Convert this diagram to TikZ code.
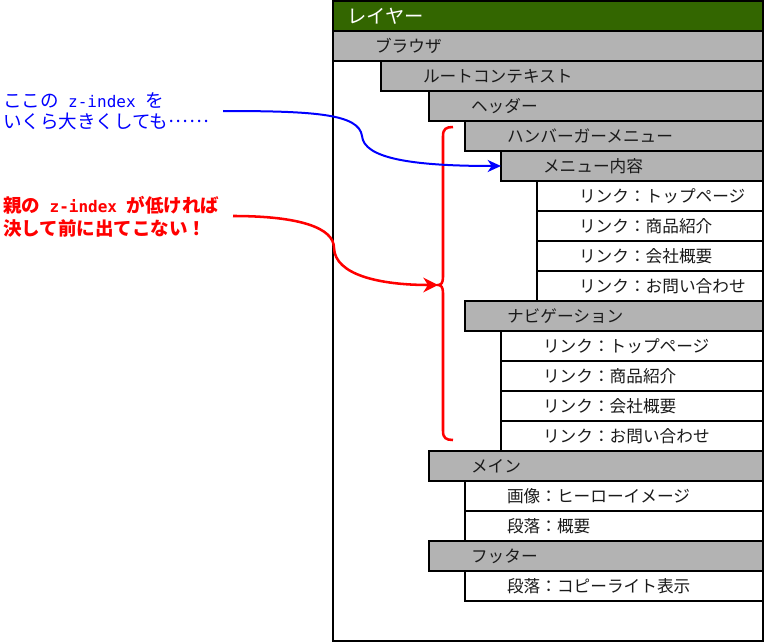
\documentclass[tikz,border=0pt]{standalone}
\usepackage{fontspec}
\setmainfont{Noto Sans CJK JP}
\newfontfamily\monof{DejaVu Sans Mono}
\usetikzlibrary{arrows.meta}
\definecolor{boxgray}{HTML}{B3B3B3}
\definecolor{layergreen}{HTML}{336600}
\definecolor{textdark}{HTML}{1A1A1A}
\tikzset{
  every node/.style={inner sep=0pt, outer sep=0pt},
  framebox/.style={draw=black, line width=1.5pt, anchor=north west},
  rowshape/.style={draw=black, line width=1.5pt, anchor=north west, minimum height=22.5pt},
  graybox/.style={rowshape, fill=boxgray},
  whitebox/.style={rowshape, fill=white},
  rowtext/.style={anchor=west, text=textdark, font=\fontsize{12.5pt}{14pt}\selectfont},
  bluearrow/.style={draw=blue, line width=1.5pt, -{Stealth[length=10pt,width=9pt,inset=3pt]}},
  redarrow/.style={draw=red, line width=1.9pt, -{Stealth[length=11pt,width=11pt,inset=3.5pt]}},
  redbrace/.style={draw=red, line width=1.9pt},
}
\newcommand\mkrow[5]{%
  \node[#4, minimum width={(763-#2)*0.75pt}] (#1) at (#2,#3) {};
  \node[rowtext] (#1t) at ([xshift=31.5pt]#1.west) {#5};
}
\begin{document}
\begin{tikzpicture}[x=0.75pt,y=-0.75pt]
\useasboundingbox (0,0) rectangle (764,642);
% outer frame
\node[framebox, fill=white, minimum width=322.5pt, minimum height=480pt] (layer) at (333,1) {};
\node[framebox, fill=layergreen, minimum width=322.5pt, minimum height=22.5pt] (title) at (333,1) {};
\node[anchor=west, text=white, font=\fontsize{14.5pt}{16pt}\selectfont] (titlet) at ([xshift=10.5pt]title.west) {レイヤー};
% rows
\mkrow{browser}{333}{31}{graybox}{ブラウザ}
\mkrow{root}{381}{61}{graybox}{ルートコンテキスト}
\mkrow{header}{429}{91}{graybox}{ヘッダー}
\mkrow{hamb}{465}{121}{graybox}{ハンバーガーメニュー}
\mkrow{menu}{501}{151}{graybox}{メニュー内容}
\mkrow{mlinka}{537}{181}{whitebox}{リンク：トップページ}
\mkrow{mlinkb}{537}{211}{whitebox}{リンク：商品紹介}
\mkrow{mlinkc}{537}{241}{whitebox}{リンク：会社概要}
\mkrow{mlinkd}{537}{271}{whitebox}{リンク：お問い合わせ}
\mkrow{nav}{465}{301}{graybox}{ナビゲーション}
\mkrow{nlinka}{501}{331}{whitebox}{リンク：トップページ}
\mkrow{nlinkb}{501}{361}{whitebox}{リンク：商品紹介}
\mkrow{nlinkc}{501}{391}{whitebox}{リンク：会社概要}
\mkrow{nlinkd}{501}{421}{whitebox}{リンク：お問い合わせ}
\mkrow{main}{429}{451}{graybox}{メイン}
\mkrow{image}{465}{481}{whitebox}{画像：ヒーローイメージ}
\mkrow{para}{465}{511}{whitebox}{段落：概要}
\mkrow{footer}{429}{541}{graybox}{フッター}
\mkrow{copy}{465}{571}{whitebox}{段落：コピーライト表示}
% annotations
\node[anchor=west, align=left, text=blue, font=\fontsize{13.9pt}{15.75pt}\selectfont] (bluenote) at (3,111)
  {ここの{\monof\fontsize{12pt}{15.75pt}\selectfont\ z-index\ }を\\いくら大きくしても\raisebox{0.3em}{…\kern1pt…}};
\node[anchor=west, align=left, text=red, font=\fontsize{13.9pt}{17pt}\selectfont\bfseries] (rednote) at (3,216.5)
  {親の{\monof\bfseries\fontsize{12pt}{17pt}\selectfont\ z-index\ }が低ければ\\決して前に出てこない！};
\coordinate (bstart) at (223,111);
\coordinate (rstart) at (233,216);
\coordinate (bracetip) at (438,285);
% brace
\draw[redbrace] (453,127) .. controls (446,127) and (443,129) .. (443,136) -- (443,277)
  .. controls (443,283) and (441,285) .. (bracetip)
  .. controls (441,285) and (443,287) .. (443,293) -- (443,431)
  .. controls (443,438) and (446,440) .. (453,440);
% arrows
\draw[bluearrow] (bstart) .. controls (315,111) and (359,114) .. (362,136)
  .. controls (364,158) and (410,166) .. (menu.west);
\draw[redarrow] (rstart) .. controls (300,216) and (334,228) .. (334,248)
  .. controls (335,275) and (380,285) .. (bracetip);
\end{tikzpicture}
\end{document}
